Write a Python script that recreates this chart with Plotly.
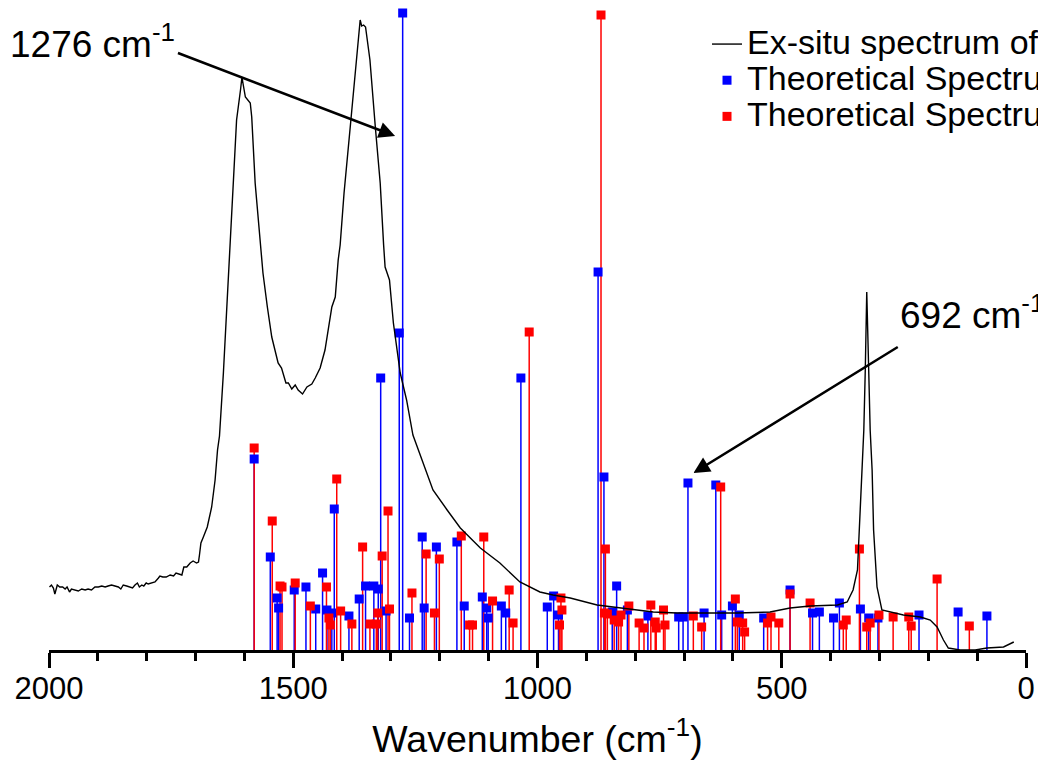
import plotly.graph_objects as go

# ---------------- data ----------------
# Experimental (ex-situ) spectrum: wavenumber (cm-1) and intensity (a.u.)
exp_wn = [1999, 1995, 1991, 1988, 1983, 1978, 1972, 1967, 1963, 1958,
          1954, 1947, 1940, 1933, 1926, 1920, 1913, 1906, 1899, 1892,
          1885, 1879, 1872, 1865, 1858, 1853, 1848, 1841, 1834, 1829,
          1824, 1819, 1815, 1810, 1806, 1801, 1797, 1790, 1783, 1776,
          1773, 1767, 1760, 1752, 1745, 1740, 1735, 1728, 1724, 1718,
          1711, 1705, 1698, 1694, 1692, 1689, 1684, 1676, 1667, 1660,
          1655, 1651, 1643, 1636, 1629, 1624, 1616, 1608, 1605, 1603,
          1598, 1588, 1585, 1578, 1568, 1562, 1553, 1544, 1531, 1524,
          1515, 1510, 1503, 1496, 1490, 1481, 1472, 1462, 1455, 1445,
          1435, 1421, 1414, 1408, 1404, 1396, 1382, 1371, 1363, 1360,
          1356, 1352, 1343, 1332, 1322, 1315, 1312, 1303, 1295, 1281,
          1268, 1255, 1234, 1214, 1185, 1158, 1117, 1077, 1036, 995,
          968, 933, 878, 831, 763, 714, 661, 591, 524, 483,
          442, 386, 366, 354, 345, 341, 335, 332, 329, 326,
          322, 319, 315, 312, 305, 295, 251, 216, 196, 182,
          169, 159, 135, 104, 80, 59, 46, 25]
exp_int = [63, 65, 62, 56, 65, 63, 63, 61, 63, 58,
           61, 60, 59, 61, 60, 61, 60, 63, 63, 64,
           63, 64, 65, 64, 63, 61, 65, 64, 63, 62,
           65, 67, 63, 65, 64, 67, 66, 67, 68, 72,
           74, 73, 73, 75, 74, 77, 76, 75, 83, 83,
           87, 89, 87, 88, 95, 107, 113, 123, 143, 170,
           200, 214, 277, 343, 405, 457, 530, 560, 573, 567,
           553, 547, 533, 467, 405, 377, 343, 313, 287, 282,
           267, 267, 261, 265, 260, 256, 263, 266, 272, 282,
           300, 343, 353, 390, 405, 457, 530, 590, 630, 624,
           625, 623, 590, 523, 467, 405, 383, 370, 327, 277,
           250, 215, 187, 160, 140, 122, 102, 87, 68, 58,
           55, 52, 45, 42, 38, 37, 37, 37, 38, 42,
           44, 45, 48, 60, 80, 120, 187, 220, 280, 358,
           280, 220, 180, 120, 63, 40, 35, 33, 30, 23,
           10, 2, 0, 0, 2, 3, 3, 8]

# Theoretical spectrum (blue)
blue_wn = [1580, 1547, 1533, 1530, 1498, 1474, 1454, 1440, 1431, 1421,
           1416, 1386, 1365, 1352, 1335, 1326, 1321, 1310, 1283, 1276,
           1262, 1236, 1232, 1207, 1165, 1150, 1113, 1104, 1101, 1074,
           1065, 1034, 980, 967, 957, 876, 864, 847, 838, 816,
           774, 711, 702, 692, 659, 635, 623, 601, 587, 537,
           483, 437, 423, 394, 382, 339, 322, 303, 219, 139, 80]
blue_int = [191, 93, 52, 42, 60, 63, 41, 77, 40, 37,
            141, 34, 51, 64, 64, 61, 272, 39, 317, 637,
            32, 113, 42, 103, 108, 44, 53, 42, 32, 44,
            37, 272, 43, 54, 35, 378, 173, 38, 64, 40,
            34, 33, 33, 167, 37, 165, 35, 44, 35, 32,
            60, 37, 38, 32, 47, 41, 32, 32, 35, 38, 34]

# Theoretical spectrum (red)
red_wn = [1580, 1543, 1527, 1523, 1496, 1465, 1432, 1427, 1424, 1411,
          1403, 1380, 1358, 1343, 1330, 1327, 1318, 1306, 1303, 1257,
          1228, 1211, 1201, 1156, 1139, 1133, 1110, 1092, 1058, 1050,
          1017, 952, 950, 955, 870, 863, 861, 857, 843, 834,
          829, 813, 792, 782, 768, 759, 757, 742, 739, 681,
          664, 625, 595, 591, 580, 576, 529, 522, 506, 483,
          442, 374, 368, 341, 326, 319, 301, 272, 240, 235, 182, 116]
red_int = [202, 129, 64, 63, 67, 44, 63, 32, 25, 171,
           39, 26, 103, 26, 26, 37, 94, 139, 41, 57,
           96, 37, 91, 114, 25, 25, 113, 49, 60, 27,
           318, 52, 40, 25, 635, 37, 101, 36, 30, 28,
           35, 44, 27, 22, 45, 28, 22, 40, 25, 34,
           23, 163, 51, 28, 27, 18, 27, 33, 27, 56,
           47, 25, 30, 101, 23, 27, 35, 33, 33, 24, 71, 24]

x_ticks = [2000, 1500, 1000, 500, 0]
series_names = ["Ex-situ spectrum of", "Theoretical Spectrum", "Theoretical Spectrum"]

FONT = "Arial, 'Liberation Sans', sans-serif"
BLUE = "#0000FF"
RED = "#FF0000"


def stems(xs, ys):
    sx, sy = [], []
    for x, y in zip(xs, ys):
        sx += [x, x, None]
        sy += [0, y, None]
    return sx, sy


def big(name):
    return '<span style="font-size:34px">%s</span>' % name


fig = go.Figure()

bx, by = stems(blue_wn, blue_int)
rx, ry = stems(red_wn, red_int)
fig.add_trace(go.Scatter(x=bx, y=by, mode="lines", line=dict(color=BLUE, width=1.5),
                         showlegend=False, hoverinfo="skip"))
fig.add_trace(go.Scatter(x=rx, y=ry, mode="lines", line=dict(color=RED, width=1.5),
                         showlegend=False, hoverinfo="skip"))
fig.add_trace(go.Scatter(x=blue_wn, y=blue_int, mode="markers",
                         marker=dict(symbol="square", size=9, color=BLUE, line=dict(width=0)),
                         name=big(series_names[1]), legendrank=2))
fig.add_trace(go.Scatter(x=red_wn, y=red_int, mode="markers",
                         marker=dict(symbol="square", size=9, color=RED, line=dict(width=0)),
                         name=big(series_names[2]), legendrank=3))
fig.add_trace(go.Scatter(x=exp_wn, y=exp_int, mode="lines",
                         line=dict(color="black", width=1.4),
                         name=big(series_names[0]), legendrank=1))

fig.update_layout(
    width=1038, height=764,
    margin=dict(l=49, r=12, t=0, b=114, autoexpand=False),
    paper_bgcolor="white", plot_bgcolor="white",
    font=dict(family=FONT, color="black"),
    legend=dict(x=0.6735, y=0.9677, xanchor="left", yanchor="top",
                bgcolor="rgba(0,0,0,0)", font=dict(family=FONT, size=25.5, color="black")),
    xaxis=dict(range=[2000, 0], tickvals=x_ticks, ticktext=[str(v) for v in x_ticks],
               showgrid=False, zeroline=False, showline=True, linecolor="black", linewidth=3,
               ticks="outside", ticklen=15, tickwidth=3, tickcolor="black",
               ticklabelstandoff=-6,
               minor=dict(dtick=100, ticks="outside", ticklen=8, tickwidth=3, tickcolor="black"),
               tickfont=dict(family=FONT, size=31, color="black"),
               title=dict(text="Wavenumber (cm<sup>-1</sup>)", font=dict(family=FONT, size=37.5),
                          standoff=21)),
    yaxis=dict(range=[0, 650], visible=False, showgrid=False, zeroline=False),
    annotations=[
        dict(text="1276 cm<sup>-1</sup>", x=1291.5, y=514, ax=1736, ay=597,
             xref="x", yref="y", axref="x", ayref="y",
             xanchor="right", yanchor="middle", width=166, height=70,
             align="left", valign="top",
             showarrow=True, arrowhead=2, arrowsize=1.3, arrowwidth=2.5, arrowcolor="black",
             font=dict(family=FONT, size=37, color="black")),
        dict(text="692 cm<sup>-1</sup>", x=680.7, y=177, ax=262.5, ay=303,
             xref="x", yref="y", axref="x", ayref="y",
             xanchor="left", yanchor="bottom", height=56, valign="top", align="left",
             showarrow=True, arrowhead=2, arrowsize=1.3, arrowwidth=2.5, arrowcolor="black",
             font=dict(family=FONT, size=37, color="black")),
    ],
)

fig.write_html("out.html", config={"displayModeBar": False},
               post_script="document.body.style.margin='0px';")
